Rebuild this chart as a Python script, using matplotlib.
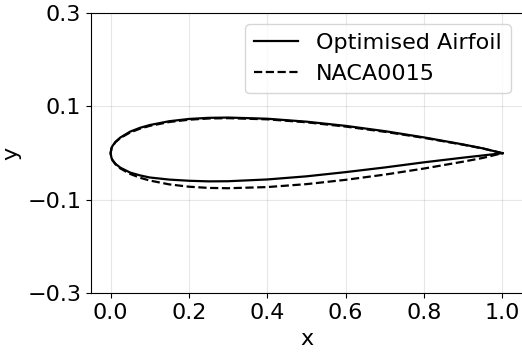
import matplotlib
matplotlib.use("Agg")
import matplotlib.pyplot as plt
import numpy as np

# chordwise stations
x_stations = [0.0, 0.0025, 0.005, 0.0125, 0.025, 0.05, 0.075, 0.1, 0.15, 0.2,
              0.25, 0.3, 0.4, 0.5, 0.6, 0.7, 0.8, 0.9, 0.95, 1.0]

# NACA0015 half thickness (symmetric)
naca_upper = [0.0, 0.0109, 0.0153, 0.0237, 0.0327, 0.0444, 0.0525, 0.0585,
              0.0668, 0.0717, 0.0743, 0.0750, 0.0725, 0.0662, 0.0570, 0.0458,
              0.0328, 0.0181, 0.0101, 0.0]
naca_lower = [-v for v in naca_upper]

# optimised airfoil
opt_upper = [0.0, 0.0112, 0.0156, 0.0243, 0.0336, 0.0462, 0.0543, 0.0603,
             0.0685, 0.0733, 0.0757, 0.0763, 0.0738, 0.0675, 0.0585, 0.0472,
             0.0338, 0.0187, 0.0104, 0.0]
opt_lower = [0.0, -0.0105, -0.0148, -0.0228, -0.0310, -0.0415, -0.0475, -0.0520,
             -0.0565, -0.0590, -0.0603, -0.0600, -0.0562, -0.0495, -0.0405,
             -0.0305, -0.0195, -0.0095, -0.0048, 0.0]

y_ticks = [-0.3, -0.1, 0.1, 0.3]


def closed_loop(xs, upper, lower):
    xs = np.asarray(xs)
    loop_x = np.concatenate([xs[::-1], xs[1:]])
    loop_y = np.concatenate([np.asarray(upper)[::-1], np.asarray(lower)[1:]])
    return loop_x, loop_y


plt.rcParams["font.size"] = 16

fig = plt.figure(figsize=(5.22, 3.53), dpi=100)
ax = fig.add_axes([0.1743, 0.169, 0.8257, 0.794])

ox, oy = closed_loop(x_stations, opt_upper, opt_lower)
nx, ny = closed_loop(x_stations, naca_upper, naca_lower)
ax.plot(ox, oy, color="black", lw=1.6, label="Optimised Airfoil")
ax.plot(nx, ny, color="black", lw=1.6, ls="--", label="NACA0015")

ax.set_xlim(-0.05, 1.05)
ax.set_ylim(-0.3, 0.3)
ax.set_yticks(y_ticks)
ax.set_xlabel("x")
ax.set_ylabel("y")
ax.grid(True, alpha=0.3)
ax.spines["right"].set_visible(False)
ax.legend(loc="upper right")

fig.savefig("out.png", dpi=100)
plt.close(fig)
